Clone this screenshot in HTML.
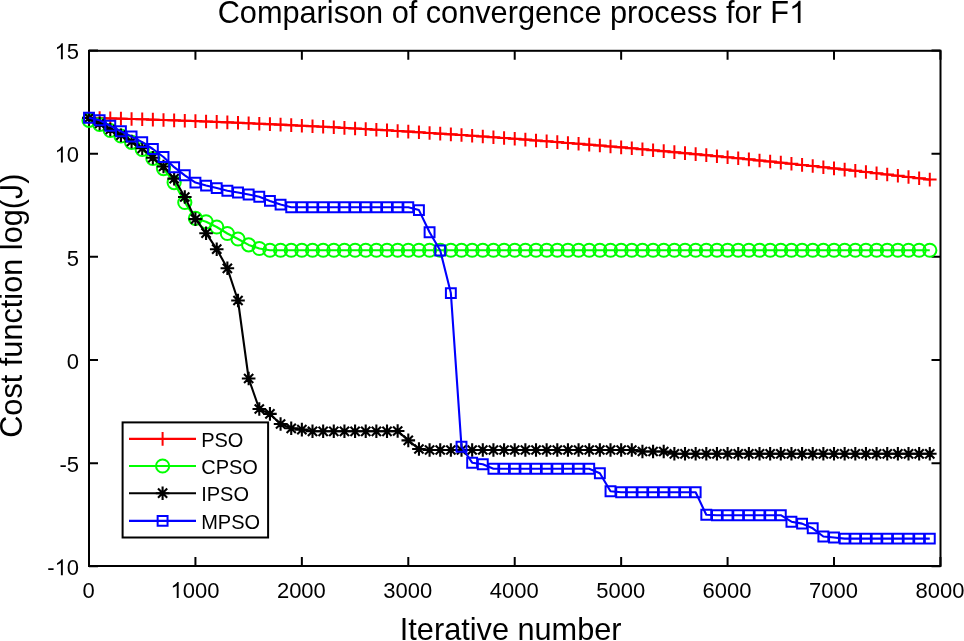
<!DOCTYPE html><html><head><meta charset="utf-8"><title>Comparison of convergence process for F1</title><style>html,body{margin:0;padding:0;background:#fff;width:964px;height:641px;overflow:hidden;}svg{display:block;will-change:transform;font-family:"Liberation Sans",sans-serif;}</style></head><body><svg width="964" height="641" viewBox="0 0 964 641">
<rect width="964" height="641" fill="#fff"/>
<path d="M89.00 566V557M89.00 50.8V59.8M195.43 566V557M195.43 50.8V59.8M301.86 566V557M301.86 50.8V59.8M408.29 566V557M408.29 50.8V59.8M514.72 566V557M514.72 50.8V59.8M621.15 566V557M621.15 50.8V59.8M727.58 566V557M727.58 50.8V59.8M834.01 566V557M834.01 50.8V59.8M940.44 566V557M940.44 50.8V59.8M89 566.33H98M940.5 566.33H931.5M89 463.16H98M940.5 463.16H931.5M89 360.00H98M940.5 360.00H931.5M89 256.84H98M940.5 256.84H931.5M89 153.67H98M940.5 153.67H931.5M89 50.50H98M940.5 50.50H931.5" stroke="#000" stroke-width="2" fill="none"/>
<rect x="89" y="50.8" width="851.5" height="515.2" fill="none" stroke="#000" stroke-width="2"/>
<polyline points="89.00,117.83 99.64,118.10 110.29,118.38 120.93,118.67 131.57,118.98 142.22,119.30 152.86,119.63 163.50,119.98 174.14,120.34 184.79,120.71 195.43,121.10 206.07,121.50 216.72,121.91 227.36,122.34 238.00,122.78 248.65,123.23 259.29,123.70 269.93,124.17 280.57,124.67 291.22,125.17 301.86,125.69 312.50,126.22 323.15,126.76 333.79,127.32 344.43,127.89 355.08,128.48 365.72,129.08 376.36,129.69 387.00,130.31 397.65,130.95 408.29,131.60 418.93,132.26 429.58,132.94 440.22,133.63 450.86,134.33 461.50,135.04 472.15,135.77 482.79,136.52 493.43,137.27 504.08,138.04 514.72,138.82 525.36,139.62 536.01,140.43 546.65,141.25 557.29,142.08 567.94,142.93 578.58,143.79 589.22,144.67 599.86,145.55 610.51,146.45 621.15,147.37 631.79,148.29 642.44,149.24 653.08,150.19 663.72,151.16 674.37,152.13 685.01,153.13 695.65,154.13 706.29,155.15 716.94,156.19 727.58,157.23 738.22,158.29 748.87,159.36 759.51,160.45 770.15,161.55 780.80,162.66 791.44,163.78 802.08,164.92 812.72,166.07 823.37,167.24 834.01,168.41 844.65,169.60 855.30,170.81 865.94,172.03 876.58,173.26 887.23,174.50 897.87,175.76 908.51,177.03 919.15,178.31 929.80,179.61" fill="none" stroke="#f00" stroke-width="2.1" stroke-linejoin="round"/>
<path d="M82.20 117.83H95.80M89.00 111.03V124.63M92.84 118.10H106.44M99.64 111.30V124.90M103.49 118.38H117.09M110.29 111.58V125.18M114.13 118.67H127.73M120.93 111.87V125.47M124.77 118.98H138.37M131.57 112.18V125.78M135.41 119.30H149.02M142.22 112.50V126.10M146.06 119.63H159.66M152.86 112.83V126.43M156.70 119.98H170.30M163.50 113.18V126.78M167.34 120.34H180.94M174.14 113.54V127.14M177.99 120.71H191.59M184.79 113.91V127.51M188.63 121.10H202.23M195.43 114.30V127.90M199.27 121.50H212.87M206.07 114.70V128.30M209.92 121.91H223.52M216.72 115.11V128.71M220.56 122.34H234.16M227.36 115.54V129.14M231.20 122.78H244.80M238.00 115.98V129.58M241.84 123.23H255.45M248.65 116.43V130.03M252.49 123.70H266.09M259.29 116.90V130.50M263.13 124.17H276.73M269.93 117.37V130.97M273.77 124.67H287.37M280.57 117.87V131.47M284.42 125.17H298.02M291.22 118.37V131.97M295.06 125.69H308.66M301.86 118.89V132.49M305.70 126.22H319.30M312.50 119.42V133.02M316.35 126.76H329.95M323.15 119.96V133.56M326.99 127.32H340.59M333.79 120.52V134.12M337.63 127.89H351.23M344.43 121.09V134.69M348.28 128.48H361.88M355.08 121.68V135.28M358.92 129.08H372.52M365.72 122.28V135.88M369.56 129.69H383.16M376.36 122.89V136.49M380.20 130.31H393.80M387.00 123.51V137.11M390.85 130.95H404.45M397.65 124.15V137.75M401.49 131.60H415.09M408.29 124.80V138.40M412.13 132.26H425.73M418.93 125.46V139.06M422.78 132.94H436.38M429.58 126.14V139.74M433.42 133.63H447.02M440.22 126.83V140.43M444.06 134.33H457.66M450.86 127.53V141.13M454.70 135.04H468.31M461.50 128.24V141.84M465.35 135.77H478.95M472.15 128.97V142.57M475.99 136.52H489.59M482.79 129.72V143.32M486.63 137.27H500.23M493.43 130.47V144.07M497.28 138.04H510.88M504.08 131.24V144.84M507.92 138.82H521.52M514.72 132.02V145.62M518.56 139.62H532.16M525.36 132.82V146.42M529.21 140.43H542.81M536.01 133.63V147.23M539.85 141.25H553.45M546.65 134.45V148.05M550.49 142.08H564.09M557.29 135.28V148.88M561.14 142.93H574.74M567.94 136.13V149.73M571.78 143.79H585.38M578.58 136.99V150.59M582.42 144.67H596.02M589.22 137.87V151.47M593.06 145.55H606.66M599.86 138.75V152.35M603.71 146.45H617.31M610.51 139.65V153.25M614.35 147.37H627.95M621.15 140.57V154.17M624.99 148.29H638.59M631.79 141.49V155.09M635.64 149.24H649.24M642.44 142.44V156.04M646.28 150.19H659.88M653.08 143.39V156.99M656.92 151.16H670.52M663.72 144.36V157.96M667.57 152.13H681.16M674.37 145.33V158.93M678.21 153.13H691.81M685.01 146.33V159.93M688.85 154.13H702.45M695.65 147.33V160.93M699.49 155.15H713.09M706.29 148.35V161.95M710.14 156.19H723.74M716.94 149.39V162.99M720.78 157.23H734.38M727.58 150.43V164.03M731.42 158.29H745.02M738.22 151.49V165.09M742.07 159.36H755.67M748.87 152.56V166.16M752.71 160.45H766.31M759.51 153.65V167.25M763.35 161.55H776.95M770.15 154.75V168.35M774.00 162.66H787.60M780.80 155.86V169.46M784.64 163.78H798.24M791.44 156.98V170.58M795.28 164.92H808.88M802.08 158.12V171.72M805.92 166.07H819.52M812.72 159.27V172.87M816.57 167.24H830.17M823.37 160.44V174.04M827.21 168.41H840.81M834.01 161.61V175.21M837.85 169.60H851.45M844.65 162.80V176.40M848.50 170.81H862.10M855.30 164.01V177.61M859.14 172.03H872.74M865.94 165.23V178.83M869.78 173.26H883.38M876.58 166.46V180.06M880.43 174.50H894.02M887.23 167.70V181.30M891.07 175.76H904.67M897.87 168.96V182.56M901.71 177.03H915.31M908.51 170.23V183.83M912.35 178.31H925.95M919.15 171.51V185.11M923.00 179.61H936.60M929.80 172.81V186.41" fill="none" stroke="#f00" stroke-width="2"/>
<polyline points="89.00,120.30 99.64,124.50 110.29,130.50 120.93,136.00 131.57,142.30 142.22,149.50 152.86,158.50 163.50,168.60 174.14,182.60 184.79,202.50 195.43,218.30 206.07,221.80 216.72,227.00 227.36,233.50 238.00,239.00 248.65,244.90 259.29,248.50 269.93,250.25 280.57,250.25 291.22,250.25 301.86,250.25 312.50,250.25 323.15,250.25 333.79,250.25 344.43,250.25 355.08,250.25 365.72,250.25 376.36,250.25 387.00,250.25 397.65,250.25 408.29,250.25 418.93,250.25 429.58,250.25 440.22,250.25 450.86,250.25 461.50,250.25 472.15,250.25 482.79,250.25 493.43,250.25 504.08,250.25 514.72,250.25 525.36,250.25 536.01,250.25 546.65,250.25 557.29,250.25 567.94,250.25 578.58,250.25 589.22,250.25 599.86,250.25 610.51,250.25 621.15,250.25 631.79,250.25 642.44,250.25 653.08,250.25 663.72,250.25 674.37,250.25 685.01,250.25 695.65,250.25 706.29,250.25 716.94,250.25 727.58,250.25 738.22,250.25 748.87,250.25 759.51,250.25 770.15,250.25 780.80,250.25 791.44,250.25 802.08,250.25 812.72,250.25 823.37,250.25 834.01,250.25 844.65,250.25 855.30,250.25 865.94,250.25 876.58,250.25 887.23,250.25 897.87,250.25 908.51,250.25 919.15,250.25 929.80,250.25" fill="none" stroke="#0f0" stroke-width="2.1" stroke-linejoin="round"/>
<circle cx="89.00" cy="120.30" r="6.6" fill="none" stroke="#0f0" stroke-width="2"/><circle cx="99.64" cy="124.50" r="6.6" fill="none" stroke="#0f0" stroke-width="2"/><circle cx="110.29" cy="130.50" r="6.6" fill="none" stroke="#0f0" stroke-width="2"/><circle cx="120.93" cy="136.00" r="6.6" fill="none" stroke="#0f0" stroke-width="2"/><circle cx="131.57" cy="142.30" r="6.6" fill="none" stroke="#0f0" stroke-width="2"/><circle cx="142.22" cy="149.50" r="6.6" fill="none" stroke="#0f0" stroke-width="2"/><circle cx="152.86" cy="158.50" r="6.6" fill="none" stroke="#0f0" stroke-width="2"/><circle cx="163.50" cy="168.60" r="6.6" fill="none" stroke="#0f0" stroke-width="2"/><circle cx="174.14" cy="182.60" r="6.6" fill="none" stroke="#0f0" stroke-width="2"/><circle cx="184.79" cy="202.50" r="6.6" fill="none" stroke="#0f0" stroke-width="2"/><circle cx="195.43" cy="218.30" r="6.6" fill="none" stroke="#0f0" stroke-width="2"/><circle cx="206.07" cy="221.80" r="6.6" fill="none" stroke="#0f0" stroke-width="2"/><circle cx="216.72" cy="227.00" r="6.6" fill="none" stroke="#0f0" stroke-width="2"/><circle cx="227.36" cy="233.50" r="6.6" fill="none" stroke="#0f0" stroke-width="2"/><circle cx="238.00" cy="239.00" r="6.6" fill="none" stroke="#0f0" stroke-width="2"/><circle cx="248.65" cy="244.90" r="6.6" fill="none" stroke="#0f0" stroke-width="2"/><circle cx="259.29" cy="248.50" r="6.6" fill="none" stroke="#0f0" stroke-width="2"/><circle cx="269.93" cy="250.25" r="6.6" fill="none" stroke="#0f0" stroke-width="2"/><circle cx="280.57" cy="250.25" r="6.6" fill="none" stroke="#0f0" stroke-width="2"/><circle cx="291.22" cy="250.25" r="6.6" fill="none" stroke="#0f0" stroke-width="2"/><circle cx="301.86" cy="250.25" r="6.6" fill="none" stroke="#0f0" stroke-width="2"/><circle cx="312.50" cy="250.25" r="6.6" fill="none" stroke="#0f0" stroke-width="2"/><circle cx="323.15" cy="250.25" r="6.6" fill="none" stroke="#0f0" stroke-width="2"/><circle cx="333.79" cy="250.25" r="6.6" fill="none" stroke="#0f0" stroke-width="2"/><circle cx="344.43" cy="250.25" r="6.6" fill="none" stroke="#0f0" stroke-width="2"/><circle cx="355.08" cy="250.25" r="6.6" fill="none" stroke="#0f0" stroke-width="2"/><circle cx="365.72" cy="250.25" r="6.6" fill="none" stroke="#0f0" stroke-width="2"/><circle cx="376.36" cy="250.25" r="6.6" fill="none" stroke="#0f0" stroke-width="2"/><circle cx="387.00" cy="250.25" r="6.6" fill="none" stroke="#0f0" stroke-width="2"/><circle cx="397.65" cy="250.25" r="6.6" fill="none" stroke="#0f0" stroke-width="2"/><circle cx="408.29" cy="250.25" r="6.6" fill="none" stroke="#0f0" stroke-width="2"/><circle cx="418.93" cy="250.25" r="6.6" fill="none" stroke="#0f0" stroke-width="2"/><circle cx="429.58" cy="250.25" r="6.6" fill="none" stroke="#0f0" stroke-width="2"/><circle cx="440.22" cy="250.25" r="6.6" fill="none" stroke="#0f0" stroke-width="2"/><circle cx="450.86" cy="250.25" r="6.6" fill="none" stroke="#0f0" stroke-width="2"/><circle cx="461.50" cy="250.25" r="6.6" fill="none" stroke="#0f0" stroke-width="2"/><circle cx="472.15" cy="250.25" r="6.6" fill="none" stroke="#0f0" stroke-width="2"/><circle cx="482.79" cy="250.25" r="6.6" fill="none" stroke="#0f0" stroke-width="2"/><circle cx="493.43" cy="250.25" r="6.6" fill="none" stroke="#0f0" stroke-width="2"/><circle cx="504.08" cy="250.25" r="6.6" fill="none" stroke="#0f0" stroke-width="2"/><circle cx="514.72" cy="250.25" r="6.6" fill="none" stroke="#0f0" stroke-width="2"/><circle cx="525.36" cy="250.25" r="6.6" fill="none" stroke="#0f0" stroke-width="2"/><circle cx="536.01" cy="250.25" r="6.6" fill="none" stroke="#0f0" stroke-width="2"/><circle cx="546.65" cy="250.25" r="6.6" fill="none" stroke="#0f0" stroke-width="2"/><circle cx="557.29" cy="250.25" r="6.6" fill="none" stroke="#0f0" stroke-width="2"/><circle cx="567.94" cy="250.25" r="6.6" fill="none" stroke="#0f0" stroke-width="2"/><circle cx="578.58" cy="250.25" r="6.6" fill="none" stroke="#0f0" stroke-width="2"/><circle cx="589.22" cy="250.25" r="6.6" fill="none" stroke="#0f0" stroke-width="2"/><circle cx="599.86" cy="250.25" r="6.6" fill="none" stroke="#0f0" stroke-width="2"/><circle cx="610.51" cy="250.25" r="6.6" fill="none" stroke="#0f0" stroke-width="2"/><circle cx="621.15" cy="250.25" r="6.6" fill="none" stroke="#0f0" stroke-width="2"/><circle cx="631.79" cy="250.25" r="6.6" fill="none" stroke="#0f0" stroke-width="2"/><circle cx="642.44" cy="250.25" r="6.6" fill="none" stroke="#0f0" stroke-width="2"/><circle cx="653.08" cy="250.25" r="6.6" fill="none" stroke="#0f0" stroke-width="2"/><circle cx="663.72" cy="250.25" r="6.6" fill="none" stroke="#0f0" stroke-width="2"/><circle cx="674.37" cy="250.25" r="6.6" fill="none" stroke="#0f0" stroke-width="2"/><circle cx="685.01" cy="250.25" r="6.6" fill="none" stroke="#0f0" stroke-width="2"/><circle cx="695.65" cy="250.25" r="6.6" fill="none" stroke="#0f0" stroke-width="2"/><circle cx="706.29" cy="250.25" r="6.6" fill="none" stroke="#0f0" stroke-width="2"/><circle cx="716.94" cy="250.25" r="6.6" fill="none" stroke="#0f0" stroke-width="2"/><circle cx="727.58" cy="250.25" r="6.6" fill="none" stroke="#0f0" stroke-width="2"/><circle cx="738.22" cy="250.25" r="6.6" fill="none" stroke="#0f0" stroke-width="2"/><circle cx="748.87" cy="250.25" r="6.6" fill="none" stroke="#0f0" stroke-width="2"/><circle cx="759.51" cy="250.25" r="6.6" fill="none" stroke="#0f0" stroke-width="2"/><circle cx="770.15" cy="250.25" r="6.6" fill="none" stroke="#0f0" stroke-width="2"/><circle cx="780.80" cy="250.25" r="6.6" fill="none" stroke="#0f0" stroke-width="2"/><circle cx="791.44" cy="250.25" r="6.6" fill="none" stroke="#0f0" stroke-width="2"/><circle cx="802.08" cy="250.25" r="6.6" fill="none" stroke="#0f0" stroke-width="2"/><circle cx="812.72" cy="250.25" r="6.6" fill="none" stroke="#0f0" stroke-width="2"/><circle cx="823.37" cy="250.25" r="6.6" fill="none" stroke="#0f0" stroke-width="2"/><circle cx="834.01" cy="250.25" r="6.6" fill="none" stroke="#0f0" stroke-width="2"/><circle cx="844.65" cy="250.25" r="6.6" fill="none" stroke="#0f0" stroke-width="2"/><circle cx="855.30" cy="250.25" r="6.6" fill="none" stroke="#0f0" stroke-width="2"/><circle cx="865.94" cy="250.25" r="6.6" fill="none" stroke="#0f0" stroke-width="2"/><circle cx="876.58" cy="250.25" r="6.6" fill="none" stroke="#0f0" stroke-width="2"/><circle cx="887.23" cy="250.25" r="6.6" fill="none" stroke="#0f0" stroke-width="2"/><circle cx="897.87" cy="250.25" r="6.6" fill="none" stroke="#0f0" stroke-width="2"/><circle cx="908.51" cy="250.25" r="6.6" fill="none" stroke="#0f0" stroke-width="2"/><circle cx="919.15" cy="250.25" r="6.6" fill="none" stroke="#0f0" stroke-width="2"/><circle cx="929.80" cy="250.25" r="6.6" fill="none" stroke="#0f0" stroke-width="2"/>
<polyline points="89.00,118.00 99.64,123.50 110.29,129.50 120.93,135.20 131.57,141.50 142.22,148.30 152.86,157.70 163.50,166.50 174.14,178.60 184.79,197.00 195.43,219.10 206.07,233.20 216.72,249.20 227.36,268.30 238.00,300.50 248.65,378.50 259.29,409.00 269.93,413.90 280.57,424.00 291.22,428.30 301.86,429.60 312.50,431.30 323.15,431.30 333.79,431.30 344.43,431.30 355.08,431.30 365.72,431.30 376.36,431.30 387.00,431.30 397.65,431.00 408.29,440.40 418.93,449.00 429.58,450.00 440.22,450.00 450.86,450.00 461.50,450.00 472.15,450.00 482.79,450.00 493.43,450.00 504.08,450.00 514.72,450.00 525.36,450.00 536.01,450.00 546.65,450.00 557.29,450.00 567.94,450.00 578.58,450.00 589.22,450.00 599.86,450.00 610.51,450.00 621.15,450.00 631.79,450.00 642.44,451.50 653.08,451.50 663.72,451.50 674.37,453.80 685.01,453.80 695.65,453.80 706.29,453.80 716.94,453.80 727.58,453.80 738.22,453.80 748.87,453.80 759.51,453.80 770.15,453.80 780.80,453.80 791.44,453.80 802.08,453.80 812.72,453.80 823.37,453.80 834.01,453.80 844.65,453.80 855.30,453.80 865.94,453.80 876.58,453.80 887.23,453.80 897.87,453.80 908.51,453.80 919.15,453.80 929.80,453.80" fill="none" stroke="#000" stroke-width="2.1" stroke-linejoin="round"/>
<path d="M82.20 118.00H95.80M89.00 111.20V124.80M84.40 113.40L93.60 122.60M84.40 122.60L93.60 113.40M92.84 123.50H106.44M99.64 116.70V130.30M95.04 118.90L104.24 128.10M95.04 128.10L104.24 118.90M103.49 129.50H117.09M110.29 122.70V136.30M105.69 124.90L114.89 134.10M105.69 134.10L114.89 124.90M114.13 135.20H127.73M120.93 128.40V142.00M116.33 130.60L125.53 139.80M116.33 139.80L125.53 130.60M124.77 141.50H138.37M131.57 134.70V148.30M126.97 136.90L136.17 146.10M126.97 146.10L136.17 136.90M135.41 148.30H149.02M142.22 141.50V155.10M137.62 143.70L146.81 152.90M137.62 152.90L146.81 143.70M146.06 157.70H159.66M152.86 150.90V164.50M148.26 153.10L157.46 162.30M148.26 162.30L157.46 153.10M156.70 166.50H170.30M163.50 159.70V173.30M158.90 161.90L168.10 171.10M158.90 171.10L168.10 161.90M167.34 178.60H180.94M174.14 171.80V185.40M169.54 174.00L178.74 183.20M169.54 183.20L178.74 174.00M177.99 197.00H191.59M184.79 190.20V203.80M180.19 192.40L189.39 201.60M180.19 201.60L189.39 192.40M188.63 219.10H202.23M195.43 212.30V225.90M190.83 214.50L200.03 223.70M190.83 223.70L200.03 214.50M199.27 233.20H212.87M206.07 226.40V240.00M201.47 228.60L210.67 237.80M201.47 237.80L210.67 228.60M209.92 249.20H223.52M216.72 242.40V256.00M212.12 244.60L221.32 253.80M212.12 253.80L221.32 244.60M220.56 268.30H234.16M227.36 261.50V275.10M222.76 263.70L231.96 272.90M222.76 272.90L231.96 263.70M231.20 300.50H244.80M238.00 293.70V307.30M233.40 295.90L242.60 305.10M233.40 305.10L242.60 295.90M241.84 378.50H255.45M248.65 371.70V385.30M244.05 373.90L253.25 383.10M244.05 383.10L253.25 373.90M252.49 409.00H266.09M259.29 402.20V415.80M254.69 404.40L263.89 413.60M254.69 413.60L263.89 404.40M263.13 413.90H276.73M269.93 407.10V420.70M265.33 409.30L274.53 418.50M265.33 418.50L274.53 409.30M273.77 424.00H287.37M280.57 417.20V430.80M275.97 419.40L285.17 428.60M275.97 428.60L285.17 419.40M284.42 428.30H298.02M291.22 421.50V435.10M286.62 423.70L295.82 432.90M286.62 432.90L295.82 423.70M295.06 429.60H308.66M301.86 422.80V436.40M297.26 425.00L306.46 434.20M297.26 434.20L306.46 425.00M305.70 431.30H319.30M312.50 424.50V438.10M307.90 426.70L317.10 435.90M307.90 435.90L317.10 426.70M316.35 431.30H329.95M323.15 424.50V438.10M318.55 426.70L327.75 435.90M318.55 435.90L327.75 426.70M326.99 431.30H340.59M333.79 424.50V438.10M329.19 426.70L338.39 435.90M329.19 435.90L338.39 426.70M337.63 431.30H351.23M344.43 424.50V438.10M339.83 426.70L349.03 435.90M339.83 435.90L349.03 426.70M348.28 431.30H361.88M355.08 424.50V438.10M350.48 426.70L359.68 435.90M350.48 435.90L359.68 426.70M358.92 431.30H372.52M365.72 424.50V438.10M361.12 426.70L370.32 435.90M361.12 435.90L370.32 426.70M369.56 431.30H383.16M376.36 424.50V438.10M371.76 426.70L380.96 435.90M371.76 435.90L380.96 426.70M380.20 431.30H393.80M387.00 424.50V438.10M382.40 426.70L391.60 435.90M382.40 435.90L391.60 426.70M390.85 431.00H404.45M397.65 424.20V437.80M393.05 426.40L402.25 435.60M393.05 435.60L402.25 426.40M401.49 440.40H415.09M408.29 433.60V447.20M403.69 435.80L412.89 445.00M403.69 445.00L412.89 435.80M412.13 449.00H425.73M418.93 442.20V455.80M414.33 444.40L423.53 453.60M414.33 453.60L423.53 444.40M422.78 450.00H436.38M429.58 443.20V456.80M424.98 445.40L434.18 454.60M424.98 454.60L434.18 445.40M433.42 450.00H447.02M440.22 443.20V456.80M435.62 445.40L444.82 454.60M435.62 454.60L444.82 445.40M444.06 450.00H457.66M450.86 443.20V456.80M446.26 445.40L455.46 454.60M446.26 454.60L455.46 445.40M454.70 450.00H468.31M461.50 443.20V456.80M456.90 445.40L466.11 454.60M456.90 454.60L466.11 445.40M465.35 450.00H478.95M472.15 443.20V456.80M467.55 445.40L476.75 454.60M467.55 454.60L476.75 445.40M475.99 450.00H489.59M482.79 443.20V456.80M478.19 445.40L487.39 454.60M478.19 454.60L487.39 445.40M486.63 450.00H500.23M493.43 443.20V456.80M488.83 445.40L498.03 454.60M488.83 454.60L498.03 445.40M497.28 450.00H510.88M504.08 443.20V456.80M499.48 445.40L508.68 454.60M499.48 454.60L508.68 445.40M507.92 450.00H521.52M514.72 443.20V456.80M510.12 445.40L519.32 454.60M510.12 454.60L519.32 445.40M518.56 450.00H532.16M525.36 443.20V456.80M520.76 445.40L529.96 454.60M520.76 454.60L529.96 445.40M529.21 450.00H542.81M536.01 443.20V456.80M531.41 445.40L540.61 454.60M531.41 454.60L540.61 445.40M539.85 450.00H553.45M546.65 443.20V456.80M542.05 445.40L551.25 454.60M542.05 454.60L551.25 445.40M550.49 450.00H564.09M557.29 443.20V456.80M552.69 445.40L561.89 454.60M552.69 454.60L561.89 445.40M561.14 450.00H574.74M567.94 443.20V456.80M563.34 445.40L572.54 454.60M563.34 454.60L572.54 445.40M571.78 450.00H585.38M578.58 443.20V456.80M573.98 445.40L583.18 454.60M573.98 454.60L583.18 445.40M582.42 450.00H596.02M589.22 443.20V456.80M584.62 445.40L593.82 454.60M584.62 454.60L593.82 445.40M593.06 450.00H606.66M599.86 443.20V456.80M595.26 445.40L604.46 454.60M595.26 454.60L604.46 445.40M603.71 450.00H617.31M610.51 443.20V456.80M605.91 445.40L615.11 454.60M605.91 454.60L615.11 445.40M614.35 450.00H627.95M621.15 443.20V456.80M616.55 445.40L625.75 454.60M616.55 454.60L625.75 445.40M624.99 450.00H638.59M631.79 443.20V456.80M627.19 445.40L636.39 454.60M627.19 454.60L636.39 445.40M635.64 451.50H649.24M642.44 444.70V458.30M637.84 446.90L647.04 456.10M637.84 456.10L647.04 446.90M646.28 451.50H659.88M653.08 444.70V458.30M648.48 446.90L657.68 456.10M648.48 456.10L657.68 446.90M656.92 451.50H670.52M663.72 444.70V458.30M659.12 446.90L668.32 456.10M659.12 456.10L668.32 446.90M667.57 453.80H681.16M674.37 447.00V460.60M669.76 449.20L678.97 458.40M669.76 458.40L678.97 449.20M678.21 453.80H691.81M685.01 447.00V460.60M680.41 449.20L689.61 458.40M680.41 458.40L689.61 449.20M688.85 453.80H702.45M695.65 447.00V460.60M691.05 449.20L700.25 458.40M691.05 458.40L700.25 449.20M699.49 453.80H713.09M706.29 447.00V460.60M701.69 449.20L710.89 458.40M701.69 458.40L710.89 449.20M710.14 453.80H723.74M716.94 447.00V460.60M712.34 449.20L721.54 458.40M712.34 458.40L721.54 449.20M720.78 453.80H734.38M727.58 447.00V460.60M722.98 449.20L732.18 458.40M722.98 458.40L732.18 449.20M731.42 453.80H745.02M738.22 447.00V460.60M733.62 449.20L742.82 458.40M733.62 458.40L742.82 449.20M742.07 453.80H755.67M748.87 447.00V460.60M744.27 449.20L753.47 458.40M744.27 458.40L753.47 449.20M752.71 453.80H766.31M759.51 447.00V460.60M754.91 449.20L764.11 458.40M754.91 458.40L764.11 449.20M763.35 453.80H776.95M770.15 447.00V460.60M765.55 449.20L774.75 458.40M765.55 458.40L774.75 449.20M774.00 453.80H787.60M780.80 447.00V460.60M776.20 449.20L785.40 458.40M776.20 458.40L785.40 449.20M784.64 453.80H798.24M791.44 447.00V460.60M786.84 449.20L796.04 458.40M786.84 458.40L796.04 449.20M795.28 453.80H808.88M802.08 447.00V460.60M797.48 449.20L806.68 458.40M797.48 458.40L806.68 449.20M805.92 453.80H819.52M812.72 447.00V460.60M808.12 449.20L817.32 458.40M808.12 458.40L817.32 449.20M816.57 453.80H830.17M823.37 447.00V460.60M818.77 449.20L827.97 458.40M818.77 458.40L827.97 449.20M827.21 453.80H840.81M834.01 447.00V460.60M829.41 449.20L838.61 458.40M829.41 458.40L838.61 449.20M837.85 453.80H851.45M844.65 447.00V460.60M840.05 449.20L849.25 458.40M840.05 458.40L849.25 449.20M848.50 453.80H862.10M855.30 447.00V460.60M850.70 449.20L859.90 458.40M850.70 458.40L859.90 449.20M859.14 453.80H872.74M865.94 447.00V460.60M861.34 449.20L870.54 458.40M861.34 458.40L870.54 449.20M869.78 453.80H883.38M876.58 447.00V460.60M871.98 449.20L881.18 458.40M871.98 458.40L881.18 449.20M880.43 453.80H894.02M887.23 447.00V460.60M882.62 449.20L891.83 458.40M882.62 458.40L891.83 449.20M891.07 453.80H904.67M897.87 447.00V460.60M893.27 449.20L902.47 458.40M893.27 458.40L902.47 449.20M901.71 453.80H915.31M908.51 447.00V460.60M903.91 449.20L913.11 458.40M903.91 458.40L913.11 449.20M912.35 453.80H925.95M919.15 447.00V460.60M914.55 449.20L923.75 458.40M914.55 458.40L923.75 449.20M923.00 453.80H936.60M929.80 447.00V460.60M925.20 449.20L934.40 458.40M925.20 458.40L934.40 449.20" fill="none" stroke="#000" stroke-width="2.1"/>
<polyline points="89.00,117.80 99.64,120.20 110.29,125.80 120.93,131.30 131.57,136.50 142.22,142.10 152.86,149.00 163.50,157.00 174.14,167.20 184.79,175.30 195.43,182.60 206.07,185.60 216.72,188.10 227.36,190.80 238.00,192.50 248.65,194.50 259.29,196.70 269.93,200.90 280.57,204.60 291.22,207.20 301.86,207.20 312.50,207.20 323.15,207.20 333.79,207.20 344.43,207.20 355.08,207.20 365.72,207.20 376.36,207.20 387.00,207.20 397.65,207.20 408.29,207.20 418.93,210.10 429.58,232.30 440.22,250.50 450.86,293.10 461.50,446.80 472.15,462.70 482.79,464.30 493.43,468.80 504.08,468.80 514.72,468.80 525.36,468.80 536.01,468.80 546.65,468.80 557.29,468.80 567.94,468.80 578.58,468.80 589.22,468.80 599.86,473.30 610.51,491.30 621.15,492.30 631.79,492.30 642.44,492.30 653.08,492.30 663.72,492.30 674.37,492.30 685.01,492.30 695.65,492.30 706.29,514.80 716.94,515.20 727.58,515.20 738.22,515.20 748.87,515.20 759.51,515.20 770.15,515.20 780.80,515.20 791.44,521.70 802.08,523.60 812.72,528.30 823.37,536.50 834.01,537.50 844.65,538.60 855.30,538.60 865.94,538.60 876.58,538.60 887.23,538.60 897.87,538.60 908.51,538.60 919.15,538.60 929.80,538.60" fill="none" stroke="#00f" stroke-width="2.1" stroke-linejoin="round"/>
<path d="M84.05 112.85h9.90v9.90h-9.90ZM94.69 115.25h9.90v9.90h-9.90ZM105.34 120.85h9.90v9.90h-9.90ZM115.98 126.35h9.90v9.90h-9.90ZM126.62 131.55h9.90v9.90h-9.90ZM137.27 137.15h9.90v9.90h-9.90ZM147.91 144.05h9.90v9.90h-9.90ZM158.55 152.05h9.90v9.90h-9.90ZM169.19 162.25h9.90v9.90h-9.90ZM179.84 170.35h9.90v9.90h-9.90ZM190.48 177.65h9.90v9.90h-9.90ZM201.12 180.65h9.90v9.90h-9.90ZM211.77 183.15h9.90v9.90h-9.90ZM222.41 185.85h9.90v9.90h-9.90ZM233.05 187.55h9.90v9.90h-9.90ZM243.70 189.55h9.90v9.90h-9.90ZM254.34 191.75h9.90v9.90h-9.90ZM264.98 195.95h9.90v9.90h-9.90ZM275.62 199.65h9.90v9.90h-9.90ZM286.27 202.25h9.90v9.90h-9.90ZM296.91 202.25h9.90v9.90h-9.90ZM307.55 202.25h9.90v9.90h-9.90ZM318.20 202.25h9.90v9.90h-9.90ZM328.84 202.25h9.90v9.90h-9.90ZM339.48 202.25h9.90v9.90h-9.90ZM350.13 202.25h9.90v9.90h-9.90ZM360.77 202.25h9.90v9.90h-9.90ZM371.41 202.25h9.90v9.90h-9.90ZM382.05 202.25h9.90v9.90h-9.90ZM392.70 202.25h9.90v9.90h-9.90ZM403.34 202.25h9.90v9.90h-9.90ZM413.98 205.15h9.90v9.90h-9.90ZM424.63 227.35h9.90v9.90h-9.90ZM435.27 245.55h9.90v9.90h-9.90ZM445.91 288.15h9.90v9.90h-9.90ZM456.56 441.85h9.90v9.90h-9.90ZM467.20 457.75h9.90v9.90h-9.90ZM477.84 459.35h9.90v9.90h-9.90ZM488.48 463.85h9.90v9.90h-9.90ZM499.13 463.85h9.90v9.90h-9.90ZM509.77 463.85h9.90v9.90h-9.90ZM520.41 463.85h9.90v9.90h-9.90ZM531.06 463.85h9.90v9.90h-9.90ZM541.70 463.85h9.90v9.90h-9.90ZM552.34 463.85h9.90v9.90h-9.90ZM562.99 463.85h9.90v9.90h-9.90ZM573.63 463.85h9.90v9.90h-9.90ZM584.27 463.85h9.90v9.90h-9.90ZM594.91 468.35h9.90v9.90h-9.90ZM605.56 486.35h9.90v9.90h-9.90ZM616.20 487.35h9.90v9.90h-9.90ZM626.84 487.35h9.90v9.90h-9.90ZM637.49 487.35h9.90v9.90h-9.90ZM648.13 487.35h9.90v9.90h-9.90ZM658.77 487.35h9.90v9.90h-9.90ZM669.41 487.35h9.90v9.90h-9.90ZM680.06 487.35h9.90v9.90h-9.90ZM690.70 487.35h9.90v9.90h-9.90ZM701.34 509.85h9.90v9.90h-9.90ZM711.99 510.25h9.90v9.90h-9.90ZM722.63 510.25h9.90v9.90h-9.90ZM733.27 510.25h9.90v9.90h-9.90ZM743.92 510.25h9.90v9.90h-9.90ZM754.56 510.25h9.90v9.90h-9.90ZM765.20 510.25h9.90v9.90h-9.90ZM775.85 510.25h9.90v9.90h-9.90ZM786.49 516.75h9.90v9.90h-9.90ZM797.13 518.65h9.90v9.90h-9.90ZM807.77 523.35h9.90v9.90h-9.90ZM818.42 531.55h9.90v9.90h-9.90ZM829.06 532.55h9.90v9.90h-9.90ZM839.70 533.65h9.90v9.90h-9.90ZM850.35 533.65h9.90v9.90h-9.90ZM860.99 533.65h9.90v9.90h-9.90ZM871.63 533.65h9.90v9.90h-9.90ZM882.27 533.65h9.90v9.90h-9.90ZM892.92 533.65h9.90v9.90h-9.90ZM903.56 533.65h9.90v9.90h-9.90ZM914.20 533.65h9.90v9.90h-9.90ZM924.85 533.65h9.90v9.90h-9.90Z" fill="none" stroke="#00f" stroke-width="2"/>
<g font-family="Liberation Sans" font-size="22" fill="#000"><text transform="translate(88.50 597.90) scale(1 1.04)" text-anchor="middle">0</text><text transform="translate(194.93 597.90) scale(1 1.04)" text-anchor="middle"> 000</text><text transform="translate(301.36 597.90) scale(1 1.04)" text-anchor="middle">2000</text><text transform="translate(407.79 597.90) scale(1 1.04)" text-anchor="middle">3000</text><text transform="translate(514.22 597.90) scale(1 1.04)" text-anchor="middle">4000</text><text transform="translate(620.65 597.90) scale(1 1.04)" text-anchor="middle">5000</text><text transform="translate(727.08 597.90) scale(1 1.04)" text-anchor="middle">6000</text><text transform="translate(833.51 597.90) scale(1 1.04)" text-anchor="middle">7000</text><text transform="translate(939.94 597.90) scale(1 1.04)" text-anchor="middle">8000</text><text transform="translate(79.10 575.13) scale(1 1.04)" text-anchor="end">- 0</text><text transform="translate(79.10 471.96) scale(1 1.04)" text-anchor="end">-5</text><text transform="translate(79.10 368.80) scale(1 1.04)" text-anchor="end">0</text><text transform="translate(79.10 265.64) scale(1 1.04)" text-anchor="end">5</text><text transform="translate(79.10 162.47) scale(1 1.04)" text-anchor="end"> 0</text><text transform="translate(79.10 59.30) scale(1 1.04)" text-anchor="end"> 5</text></g>
<g font-family="Liberation Sans" font-size="30.7" fill="#000"><text x="217.7" y="22.9">Comparison of convergence process for F </text><text x="399.8" y="640.4">Iterative number</text><g transform="translate(22.1 437.8) rotate(-90)"><text x="0" y="0">Cost function log( )</text><path transform="translate(238.8 0) scale(0.014990 -0.014990)" d="M853 1466V459Q853 215 740 95Q627 -25 440 -25Q240 -25 140 85Q40 195 45 416L222 440Q228 260 290 200Q352 140 440 140Q560 140 610 210Q659 280 659 448V1466Z"/></g></g>
<g fill="#000"><path transform="translate(170.47 597.90) scale(0.010742 -0.010850)" d="M763 0H583V1147Q518 1085 412.5 1023Q307 961 223 930V1104Q374 1175 487 1276Q600 1377 647 1472H763Z"/><path transform="translate(54.64 575.13) scale(0.010742 -0.010850)" d="M763 0H583V1147Q518 1085 412.5 1023Q307 961 223 930V1104Q374 1175 487 1276Q600 1377 647 1472H763Z"/><path transform="translate(54.64 162.47) scale(0.010742 -0.010850)" d="M763 0H583V1147Q518 1085 412.5 1023Q307 961 223 930V1104Q374 1175 487 1276Q600 1377 647 1472H763Z"/><path transform="translate(54.64 59.30) scale(0.010742 -0.010850)" d="M763 0H583V1147Q518 1085 412.5 1023Q307 961 223 930V1104Q374 1175 487 1276Q600 1377 647 1472H763Z"/><path transform="translate(789.08 22.90) scale(0.014990 -0.014990)" d="M763 0H583V1147Q518 1085 412.5 1023Q307 961 223 930V1104Q374 1175 487 1276Q600 1377 647 1472H763Z"/></g>
<rect x="122.6" y="422.4" width="145.50000000000003" height="115.10000000000002" fill="#fff" stroke="#000" stroke-width="2"/>
<path d="M129 438.9H196" stroke="#f00" stroke-width="2.1"/><path d="M155.80 438.90H169.40M162.60 432.10V445.70" stroke="#f00" stroke-width="2"/>
<path d="M129 466.0H196" stroke="#0f0" stroke-width="2.1"/><circle cx="162.6" cy="466.0" r="6.6" fill="none" stroke="#0f0" stroke-width="2"/>
<path d="M129 493.2H196" stroke="#000" stroke-width="2.1"/><path d="M155.80 493.20H169.40M162.60 486.40V500.00M158.00 488.60L167.20 497.80M158.00 497.80L167.20 488.60" stroke="#000" stroke-width="2.1"/>
<path d="M129 520.9H196" stroke="#00f" stroke-width="2.1"/><path d="M157.65 515.95h9.90v9.90h-9.90Z" fill="none" stroke="#00f" stroke-width="2"/>
<g font-family="Liberation Sans" font-size="20" fill="#000"><text transform="translate(201.2 446.80) scale(1 1.05)">PSO</text><text transform="translate(201.2 473.90) scale(1 1.05)">CPSO</text><text transform="translate(201.2 501.10) scale(1 1.05)">IPSO</text><text transform="translate(201.2 528.80) scale(1 1.05)">MPSO</text></g>
</svg></body></html>
